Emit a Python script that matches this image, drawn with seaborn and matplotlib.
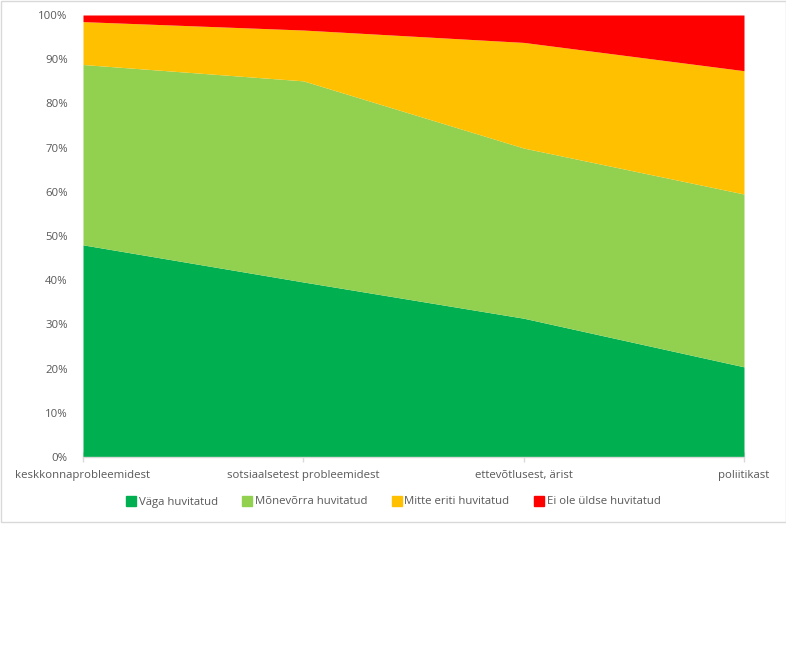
import matplotlib
matplotlib.use("Agg")
import matplotlib.pyplot as plt
import seaborn as sns
import numpy as np
from matplotlib.patches import Rectangle
from matplotlib.lines import Line2D

categories = ["keskkonnaprobleemidest", "sotsiaalsetest probleemidest",
              "ettevõtlusest, ärist", "poliitikast"]
series_names = ["Väga huvitatud", "Mõnevõrra huvitatud",
                "Mitte eriti huvitatud", "Ei ole üldse huvitatud"]
vaga = [48.0, 39.6, 31.4, 20.4]
monevorra = [40.8, 45.5, 38.5, 39.1]
mitte_eriti = [9.7, 11.5, 23.9, 27.9]
ei_ole = [1.5, 3.4, 6.2, 12.6]
yticks = [0, 10, 20, 30, 40, 50, 60, 70, 80, 90, 100]
colors = ["#00B050", "#92D050", "#FFC000", "#FF0000"]

sns.set_theme(style="white")
plt.rcParams["font.family"] = ["Open Sans", "DejaVu Sans"]

fig = plt.figure(figsize=(7.86, 6.48), dpi=100)
fig.patch.set_facecolor("white")
ax = fig.add_axes([83/786, 1-457/648, (744-83)/786, (457-15)/648])

data = np.array([vaga, monevorra, mitte_eriti, ei_ole])
totals = data.sum(axis=0)
pct = data / totals * 100
x = np.arange(len(categories))
ax.stackplot(x, pct, colors=colors, labels=series_names, linewidth=0)

ax.set_xlim(0, len(categories) - 1)
ax.set_ylim(0, 100)
ax.set_yticks(yticks)
ax.set_yticklabels([f"{v}%" for v in yticks])
ax.set_xticks(x)
ax.set_xticklabels(categories)

for s in ["top", "right", "left"]:
    ax.spines[s].set_visible(False)
ax.spines["bottom"].set_color("#D9D9D9")
ax.spines["bottom"].set_linewidth(1)
ax.tick_params(axis="x", direction="inout", length=7, color="#D9D9D9",
               width=1, labelsize=8.2, labelcolor="#595959", pad=6, bottom=True)
ax.tick_params(axis="y", length=0, labelsize=8.2, labelcolor="#595959", pad=11)
ax.grid(False)

handles = [Line2D([0], [0], marker="s", linestyle="none", markersize=6.5,
                  markerfacecolor=c, markeredgecolor=c) for c in colors]
fig.legend(handles, series_names, loc="center", bbox_to_anchor=(0.5, 1-502/648),
           ncol=4, frameon=False, fontsize=8.2, labelcolor="#595959",
           handletextpad=0.15, columnspacing=2.1, handlelength=1.0)

fig.patches.append(Rectangle((0.5/786, 1-522/648), 785/786, 521.5/648,
                             transform=fig.transFigure, fill=False,
                             edgecolor="#D9D9D9", linewidth=1))

fig.savefig("out.png", dpi=100)
